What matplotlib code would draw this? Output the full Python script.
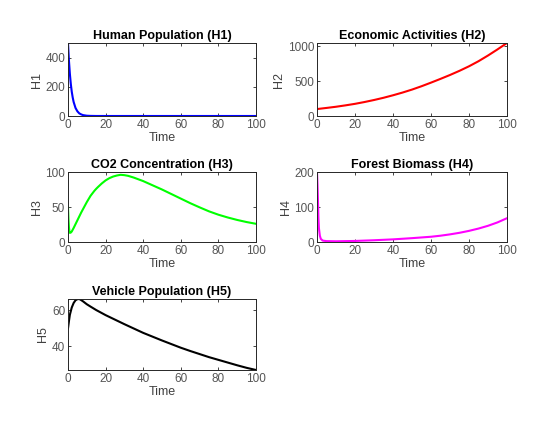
import matplotlib
matplotlib.use("Agg")
import matplotlib.pyplot as plt

plt.rcParams["font.family"] = ["Liberation Sans", "DejaVu Sans"]

# valores
t_h1 = [0, 0.5, 1, 1.5, 2, 2.5, 3, 4, 5, 6, 7, 8, 10, 12, 15, 20, 30, 40, 50, 60, 70, 80, 90, 100]
h1 = [500, 380, 288, 219, 166, 127, 96, 55, 32, 18, 11, 6, 2, 0.7, 0.1, 0, 0, 0, 0, 0, 0, 0, 0, 0]

t_h2 = [0, 5, 10, 15, 20, 25, 30, 35, 40, 45, 50, 55, 60, 65, 70, 75, 80, 85, 90, 95, 100]
h2 = [100, 116, 133, 153, 175, 201, 230, 262, 298, 337, 380, 428, 480, 534, 590,
      650, 715, 788, 870, 958, 1050]

t_h3 = [0, 0.15, 0.3, 0.5, 0.8, 1, 1.5, 2, 3, 4, 5, 6, 7, 8, 9, 10, 11, 12, 13, 14,
        15, 16, 18, 20, 22, 24, 26, 28, 30, 32, 35, 38, 40, 45, 50, 55, 60, 65, 70,
        75, 80, 85, 90, 95, 100]
h3 = [50, 40, 30, 21, 14.5, 13, 13.5, 15, 20, 25.5, 31, 36.5, 42, 47, 52, 57, 61.5,
      66, 69.5, 73, 76, 78.7, 83.7, 88, 91.2, 93.5, 95, 96, 95.5, 94.5, 92, 89, 87,
      81, 75, 68.5, 62, 55.5, 49.5, 43.8, 39, 35, 31.5, 28.5, 26]

t_h4 = [0, 0.25, 0.5, 0.75, 1, 1.5, 2, 3, 5, 10, 20, 30, 40, 50, 60, 65, 70, 75,
        80, 85, 90, 95, 100]
h4 = [200, 165, 120, 70, 40, 18, 9, 4, 2.5, 2, 3, 5, 7.5, 11, 15, 18, 21.8, 26.3,
      31.8, 38.4, 46.3, 56, 68]

t_h5 = [0, 0.5, 1, 2, 3, 4, 5, 6, 7, 8, 10, 12, 15, 20, 25, 30, 35, 40, 45, 50,
        55, 60, 65, 70, 75, 80, 85, 90, 95, 100]
h5 = [50, 54, 57.5, 61.5, 64, 65.5, 66.1, 66.2, 65.6, 64.9, 63.3, 62.0, 60.1, 57.3,
      54.8, 52.3, 49.9, 47.5, 45.4, 43.3, 41.3, 39.3, 37.5, 35.8, 34.1, 32.6, 31.1,
      29.6, 28.2, 27]

PANELS = [
    ("Human Population (H1)", "H1", t_h1, h1, "#0000ff", (0, 500), [0, 200, 400]),
    ("Economic Activities (H2)", "H2", t_h2, h2, "#ff0000", (0, 1050), [0, 500, 1000]),
    ("CO2 Concentration (H3)", "H3", t_h3, h3, "#00ff00", (0, 100), [0, 50, 100]),
    ("Forest Biomass (H4)", "H4", t_h4, h4, "#ff00ff", (0, 200), [0, 100, 200]),
    ("Vehicle Population (H5)", "H5", t_h5, h5, "#000000", (27, 66.2), [40, 60]),
]

W, H = 543, 440
# posições em pixels (esquerda, topo, direita, base)
BOXES = [
    (68, 43, 256, 116),
    (317, 43, 507, 116),
    (68, 172, 256, 242),
    (317, 172, 507, 242),
    (68, 299, 256, 370),
]

fig = plt.figure(figsize=(W / 100, H / 100), dpi=100, facecolor="white")

for (title, ylab, t, y, color, ylim, yticks), (l, top, r, b) in zip(PANELS, BOXES):
    ax = fig.add_axes([l / W, 1 - b / H, (r - l) / W, (b - top) / H])
    ax.plot(t, y, color=color, linewidth=1.5)
    ax.set_xlim(0, 100)
    ax.set_ylim(*ylim)
    ax.set_xticks([0, 20, 40, 60, 80, 100])
    ax.set_yticks(yticks)
    ax.tick_params(direction="in", length=2.5, width=0.6, top=True, right=True,
                   labelsize=8.5, labelcolor="#555555", color="#262626", pad=2)
    for s in ax.spines.values():
        s.set_linewidth(0.7)
        s.set_color("#262626")
    ax.set_title(title, fontsize=9, fontweight="bold", pad=3)
    ax.set_xlabel("Time", fontsize=9, color="#404040", labelpad=1)
    ax.set_ylabel(ylab, fontsize=9, color="#404040", labelpad=2)

fig.savefig("out.png", dpi=100, facecolor="white")
plt.close(fig)
